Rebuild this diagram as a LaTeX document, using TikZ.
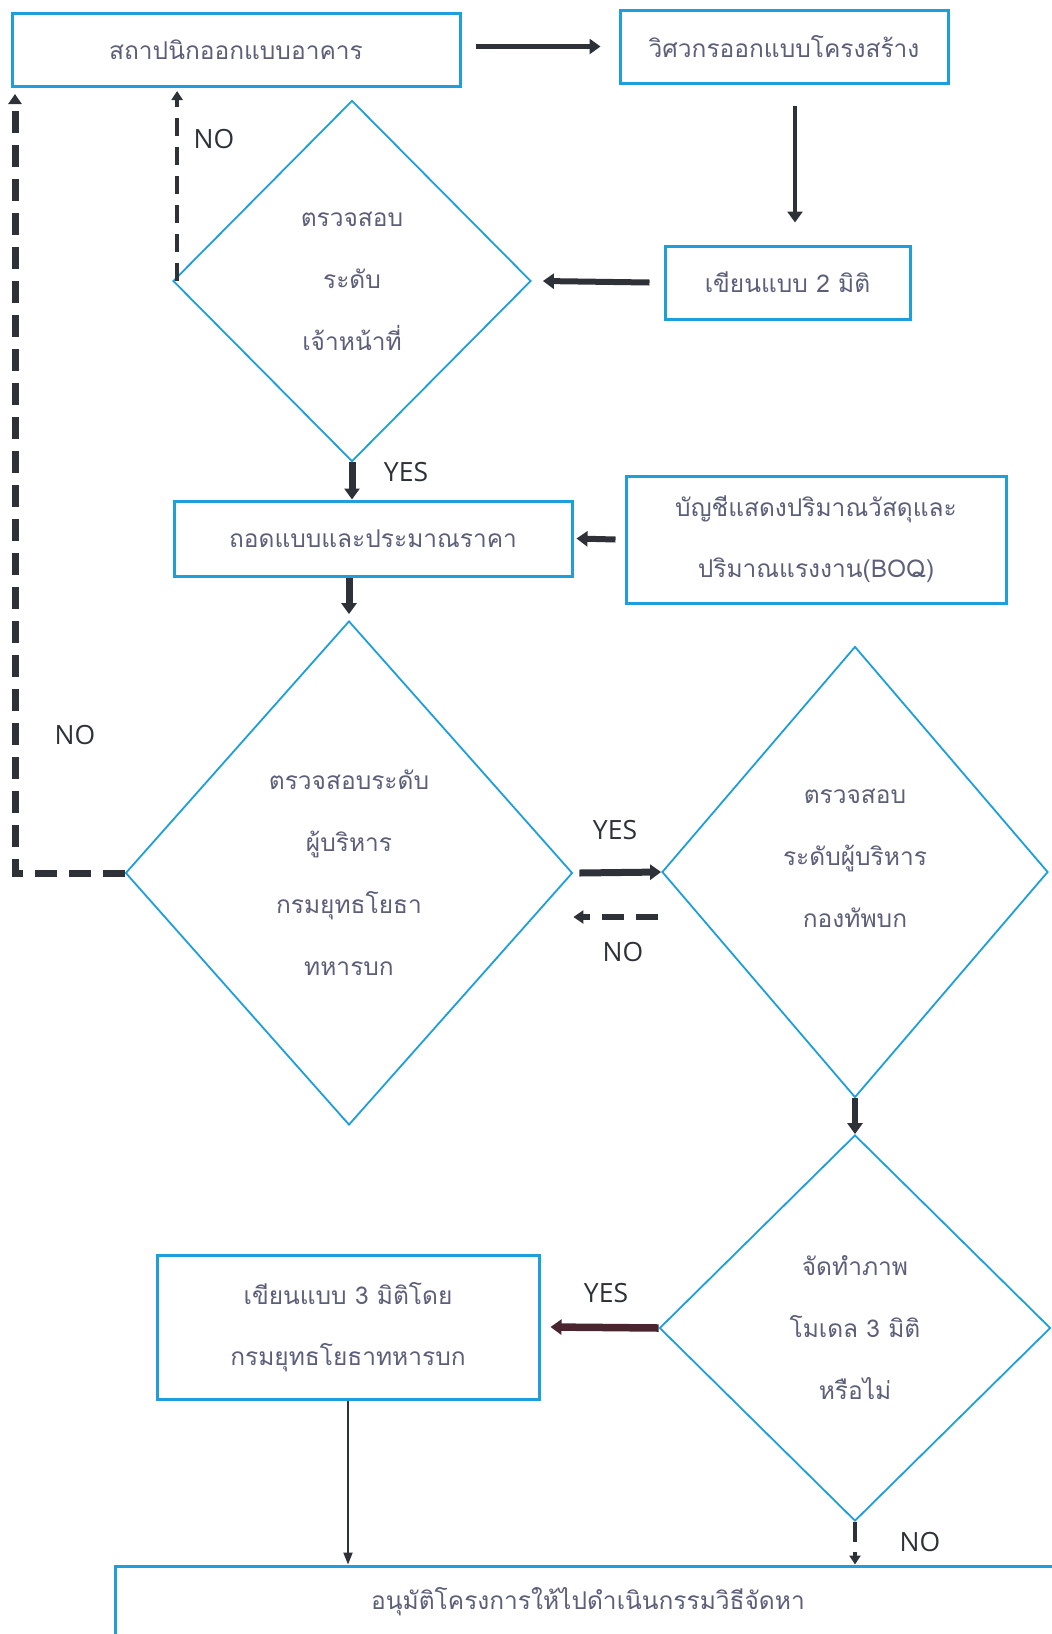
\documentclass[tikz,border=0pt]{standalone}
\usepackage{fontspec}
\newfontfamily\thaifont[Script=Thai]{Loma}
\setmainfont{Open Sans}
\usetikzlibrary{shapes.geometric,arrows.meta}
\definecolor{boxblue}{HTML}{1E9FDC}
\definecolor{txt}{HTML}{5D5F7A}
\definecolor{arr}{HTML}{2E3238}
\definecolor{maroon}{HTML}{4A2530}
\tikzset{
  procbox/.style={draw=boxblue, line width=3pt, fill=white, inner sep=0pt, align=center,
    text=txt, font=\thaifont\fontsize{24.5}{61}\selectfont},
  decision/.style={diamond, draw=boxblue, line width=1.8pt, inner sep=0pt, align=center,
    text=txt, font=\thaifont\fontsize{24.5}{62}\selectfont},
  flow/.style={draw=arr, line width=6pt, -{Triangle[length=11pt,width=15pt]}},
  thinflow/.style={draw=arr, line width=1.8pt, -{Triangle[length=12pt,width=9pt]}},
  noflow/.style={draw=arr, line width=6.5pt, dash pattern=on 22pt off 12pt, -{Triangle[length=10pt,width=13pt]}},
  noflowthin/.style={draw=arr, line width=3.5pt, dash pattern=on 18pt off 11pt, -{Triangle[length=9pt,width=11pt]}},
  lbl/.style={text=arr, font=\fontsize{26.5}{30}\selectfont, inner sep=0pt}
}
\begin{document}
\begin{tikzpicture}[x=1pt,y=-1pt]
\clip (0,0) rectangle (1052,1634);
\fill[white] (0,0) rectangle (1052,1634);

% boxes
\node[procbox, minimum width=448pt, minimum height=73pt] (box1) at (236,50) {สถาปนิกออกแบบอาคาร};
\node[procbox, minimum width=328pt, minimum height=73pt] (box2) at (784,46.5) {วิศวกรออกแบบโครงสร้าง};
\node[procbox, minimum width=245pt, minimum height=73pt] (box3) at (787.5,282.5) {เขียนแบบ 2 มิติ};
\node[procbox, minimum width=398pt, minimum height=75pt] (box4) at (373,538.5) {ถอดแบบและประมาณราคา};
\node[procbox, minimum width=380pt, minimum height=127pt] (box5) at (816,539.5) {บัญชีแสดงปริมาณวัสดุและ\\ปริมาณแรงงาน(BOQ)};
\node[procbox, minimum width=382pt, minimum height=144pt] (box6) at (348,1327) {เขียนแบบ 3 มิติโดย\\กรมยุทธโยธาทหารบก};
\node[procbox, minimum width=946pt, minimum height=72pt] (box7) at (588,1602) {อนุมัติโครงการให้ไปดำเนินกรรมวิธีจัดหา};

% decisions
\node[decision, minimum width=358pt, minimum height=361pt] (d1) at (352,281) {ตรวจสอบ\\ระดับ\\เจ้าหน้าที่};
\node[decision, minimum width=447pt, minimum height=504pt] (d2) at (349,873) {ตรวจสอบระดับ\\ผู้บริหาร\\กรมยุทธโยธา\\ทหารบก};
\node[decision, minimum width=386pt, minimum height=451pt] (d3) at (855,872) {ตรวจสอบ\\ระดับผู้บริหาร\\กองทัพบก\\[-34pt]\mbox{}};
\node[decision, minimum width=391pt, minimum height=386pt] (d4) at (855,1328) {จัดทำภาพ\\โมเดล 3 มิติ\\หรือไม่};

% connectors
\draw[flow, line width=5.5pt] (box1.east |- box2.west) ++(14,0) coordinate (s1) (s1) -- ([xshift=-18pt]box2.west);
\draw[flow, line width=4.5pt] ([shift={(11,21)}]box2.south) -- ([shift={(7.5,-22)}]box3.north);
\draw[flow] ([xshift=-14pt]box3.west) -- ([xshift=11pt]d1.east);
\draw[noflowthin] ([xshift=5pt]d1.west) -- ([xshift=5pt,yshift=-3pt]d1.west |- box1.south) ;
\draw[flow, line width=7pt] (d1.south) -- (d1.south |- box4.north);
\draw[flow] ([xshift=-9pt]box5.west) -- ([xshift=3pt]box4.east);
\draw[flow, line width=7pt] (box4.south -| d2.north) -- ([yshift=6pt]d2.north);
\draw[noflow, line width=7pt] (d2.west) -| ([xshift=4.5pt,yshift=-6pt]box1.south west);
\draw[flow, line width=7pt] ([xshift=6pt]d2.east) -- (d3.west);
\draw[noflow] ([shift={(-3,45)}]d3.west) coordinate (n3s) -- (n3s -| d2.east);
\draw[flow, line width=6pt] (d3.south) -- (d4.north);
\draw[flow, draw=maroon, line width=7.5pt] (d4.west) -- ([xshift=10pt]box6.east);
\draw[thinflow] (box6.south) -- (box6.south |- box7.north);
\draw[noflowthin, line width=4pt, dash pattern=on 20pt off 10pt] (d4.south) -- (d4.south |- box7.north);

% labels
\node[lbl] (l1) at (214,139) {NO};
\node[lbl] (l2) at (406,472) {YES};
\node[lbl] (l3) at (75,735) {NO};
\node[lbl] (l4) at (615,830) {YES};
\node[lbl] (l5) at (623,952) {NO};
\node[lbl] (l6) at (606,1293) {YES};
\node[lbl] (l7) at (920,1542) {NO};
\end{tikzpicture}
\end{document}
